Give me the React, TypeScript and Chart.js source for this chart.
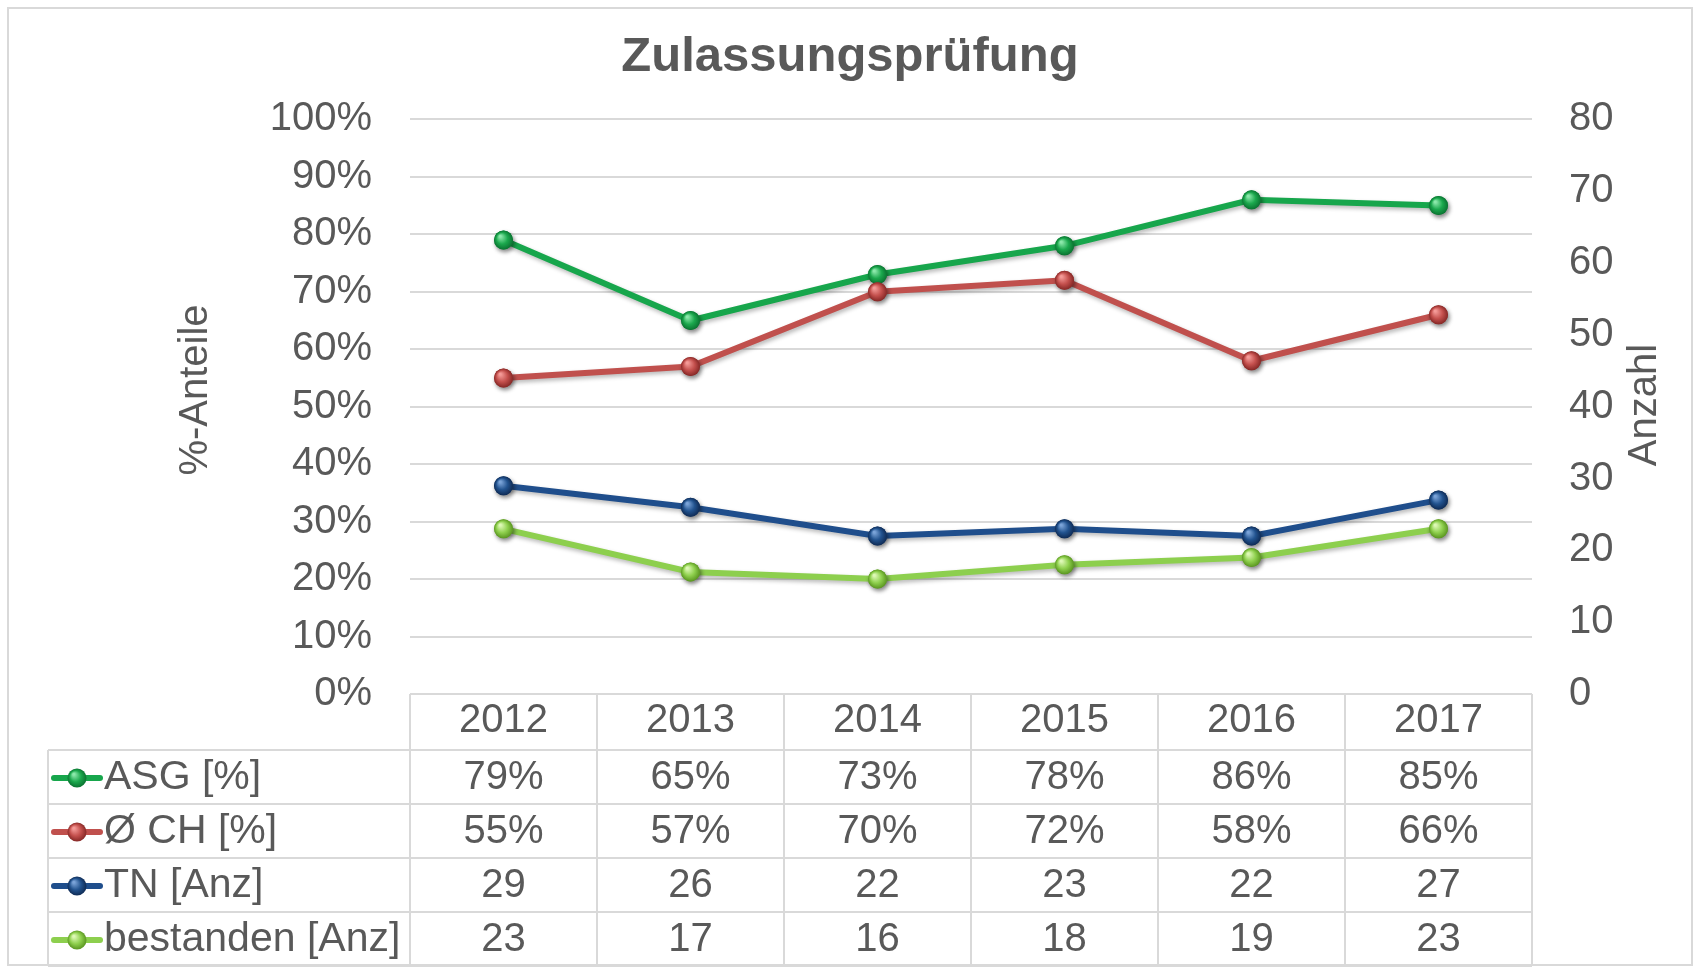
import React, { useEffect, useRef } from 'react';
import { Chart, registerables } from 'chart.js';

Chart.register(...registerables);

// ---- data ----
const years = ['2012', '2013', '2014', '2015', '2016', '2017'];
const asgPct = [79, 65, 73, 78, 86, 85];
const chPct = [55, 57, 70, 72, 58, 66];
const tnCount = [29, 26, 22, 23, 22, 27];
const passedCount = [23, 17, 16, 18, 19, 23];
const seriesLabels = ['ASG [%]', 'Ø CH [%]', 'TN [Anz]', 'bestanden [Anz]'];
const seriesIsPct = [true, true, false, false];
const pctAxisMax = 100;
const countAxisMax = 80;
const axisStep = 10;
const chartTitle = 'Zulassungsprüfung';
const leftAxisTitle = '%-Anteile';
const rightAxisTitle = 'Anzahl';

// ---- styles ----
const FONT = "'Liberation Sans', Arial, Helvetica, sans-serif";
const TEXT = '#595959';
const GRID = '#d9d9d9';
const seriesStyles = [
  { line: '#17A64C', color: '#1BA84D', light: '#8BE8AA', dark: '#0A7331' },
  { line: '#C0504D', color: '#C4504D', light: '#F49A97', dark: '#862826' },
  { line: '#1F4E8C', color: '#22538F', light: '#7AA3D8', dark: '#0F2B55' },
  { line: '#8DCF4E', color: '#8FD04E', light: '#DDF8B5', dark: '#5A9620' },
];

const CHART_W = 1700;
const CHART_H = 971;
const ROW_LINES = [750, 804, 858, 912, 966];
const HEADER_TOP = 694;
const TABLE_LEFT = 48;
const MARKER_R = 9.5;

function drawSphere(ctx: CanvasRenderingContext2D, x: number, y: number, r: number, st: any) {
  const g = ctx.createRadialGradient(x - r * 0.35, y - r * 0.4, r * 0.1, x, y, r);
  g.addColorStop(0, st.light);
  g.addColorStop(0.55, st.color);
  g.addColorStop(1, st.dark);
  ctx.beginPath();
  ctx.arc(x, y, r, 0, Math.PI * 2);
  ctx.fillStyle = g;
  ctx.fill();
}

const tablePlugin = {
  id: 'tablePlugin',
  beforeDatasetDraw(chart: any) {
    const ctx = chart.ctx;
    ctx.save();
    ctx.shadowColor = 'rgba(0,0,0,0.28)';
    ctx.shadowBlur = 4;
    ctx.shadowOffsetX = 1.5;
    ctx.shadowOffsetY = 2.5;
  },
  afterDatasetDraw(chart: any, args: any) {
    const ctx = chart.ctx;
    const st = seriesStyles[args.index];
    args.meta.data.forEach((pt: any) => drawSphere(ctx, pt.x, pt.y, MARKER_R, st));
    ctx.restore();
  },
  afterDraw(chart: any) {
    const ctx = chart.ctx;
    const area = chart.chartArea;
    const xs = chart.scales.x;
    const colW = (area.right - area.left) / years.length;
    ctx.save();
    // outer border
    ctx.strokeStyle = GRID;
    ctx.lineWidth = 2;
    ctx.strokeRect(8, 8, CHART_W - 16, CHART_H - 14);

    // table lines
    ctx.beginPath();
    ctx.moveTo(area.left, HEADER_TOP);
    ctx.lineTo(area.right, HEADER_TOP);
    ROW_LINES.forEach((y) => {
      ctx.moveTo(TABLE_LEFT, y);
      ctx.lineTo(area.right, y);
    });
    ctx.moveTo(TABLE_LEFT, ROW_LINES[0]);
    ctx.lineTo(TABLE_LEFT, ROW_LINES[ROW_LINES.length - 1]);
    for (let i = 0; i <= years.length; i++) {
      const x = area.left + i * colW;
      ctx.moveTo(x, HEADER_TOP);
      ctx.lineTo(x, ROW_LINES[ROW_LINES.length - 1]);
    }
    ctx.stroke();

    // cell values
    ctx.textBaseline = 'middle';
    chart.data.datasets.forEach((ds: any, r: number) => {
      const yc = (ROW_LINES[r] + ROW_LINES[r + 1]) / 2 + 1;
      ctx.font = `40px ${FONT}`;
      ctx.textAlign = 'center';
      ctx.fillStyle = TEXT;
      ds.data.forEach((v: number, c: number) => {
        const txt = seriesIsPct[r] ? `${v}%` : `${v}`;
        ctx.fillText(txt, xs.getPixelForValue(c), yc);
      });
      // legend key
      const st = seriesStyles[r];
      ctx.save();
      ctx.strokeStyle = st.line;
      ctx.lineWidth = 6;
      ctx.lineCap = 'round';
      ctx.beginPath();
      ctx.moveTo(54, yc);
      ctx.lineTo(100, yc);
      ctx.stroke();
      drawSphere(ctx, 77, yc, MARKER_R, st);
      ctx.restore();
      ctx.font = `41px ${FONT}`;
      ctx.textAlign = 'left';
      ctx.fillStyle = TEXT;
      ctx.fillText(seriesLabels[r], 104, yc);
    });

    // axis titles
    ctx.font = `40px ${FONT}`;
    ctx.fillStyle = TEXT;
    ctx.textAlign = 'center';
    ctx.textBaseline = 'middle';
    ctx.save();
    ctx.translate(196, 390);
    ctx.rotate(-Math.PI / 2);
    ctx.fillText(leftAxisTitle, 0, 0);
    ctx.restore();
    ctx.save();
    ctx.translate(1645, 405);
    ctx.rotate(-Math.PI / 2);
    ctx.fillText(rightAxisTitle, 0, 0);
    ctx.restore();
    ctx.restore();
  },
};

export default function App() {
  const canvasRef = useRef<HTMLCanvasElement | null>(null);

  useEffect(() => {
    const canvas = canvasRef.current;
    if (!canvas) return;
    const series = [asgPct, chPct, tnCount, passedCount];
    const chart = new Chart(canvas, {
      type: 'line',
      data: {
        labels: years,
        datasets: series.map((d, i) => ({
          label: seriesLabels[i],
          data: d,
          yAxisID: i < 2 ? 'y' : 'y1',
          borderColor: seriesStyles[i].line,
          backgroundColor: seriesStyles[i].color,
          borderWidth: 6,
          pointRadius: MARKER_R,
          pointBorderWidth: 0,
          pointBackgroundColor: seriesStyles[i].color,
          tension: 0,
          fill: false,
          order: 4 - i,
        })),
      },
      options: {
        responsive: false,
        animation: false,
        devicePixelRatio: 1,
        layout: { padding: 0 },
        plugins: {
          legend: { display: false },
          tooltip: { enabled: false },
          title: {
            display: true,
            text: chartTitle,
            color: TEXT,
            font: { family: FONT, size: 49, weight: 'bold', lineHeight: 1.2 },
            padding: { top: 28, bottom: 32.6 },
          },
        },
        scales: {
          x: {
            type: 'category',
            offset: true,
            grid: { display: false, drawTicks: false },
            border: { display: false },
            ticks: { color: TEXT, font: { family: FONT, size: 40 }, padding: 3, maxRotation: 0, autoSkip: false },
            afterFit: (s: any) => { s.height = CHART_H - HEADER_TOP; },
          },
          y: {
            position: 'left',
            min: 0,
            max: pctAxisMax,
            ticks: {
              stepSize: axisStep,
              callback: (v: any) => `${v}%`,
              padding: 38,
              color: TEXT,
              font: { family: FONT, size: 40 },
            },
            grid: { color: GRID, lineWidth: 2, drawTicks: false },
            border: { display: false },
            afterFit: (s: any) => { s.width = 410; },
          },
          y1: {
            position: 'right',
            min: 0,
            max: countAxisMax,
            ticks: {
              stepSize: axisStep,
              padding: 37,
              color: TEXT,
              font: { family: FONT, size: 40 },
            },
            grid: { display: false, drawTicks: false },
            border: { display: false },
            afterFit: (s: any) => { s.width = 168; },
          },
        },
      } as any,
      plugins: [tablePlugin as any],
    });
    return () => chart.destroy();
  }, []);

  return (
    <div style={{ position: 'absolute', left: 0, top: 0, width: CHART_W, height: CHART_H, background: '#fff' }}>
      <canvas ref={canvasRef} width={CHART_W} height={CHART_H} style={{ display: 'block', width: CHART_W, height: CHART_H }} />
    </div>
  );
}
